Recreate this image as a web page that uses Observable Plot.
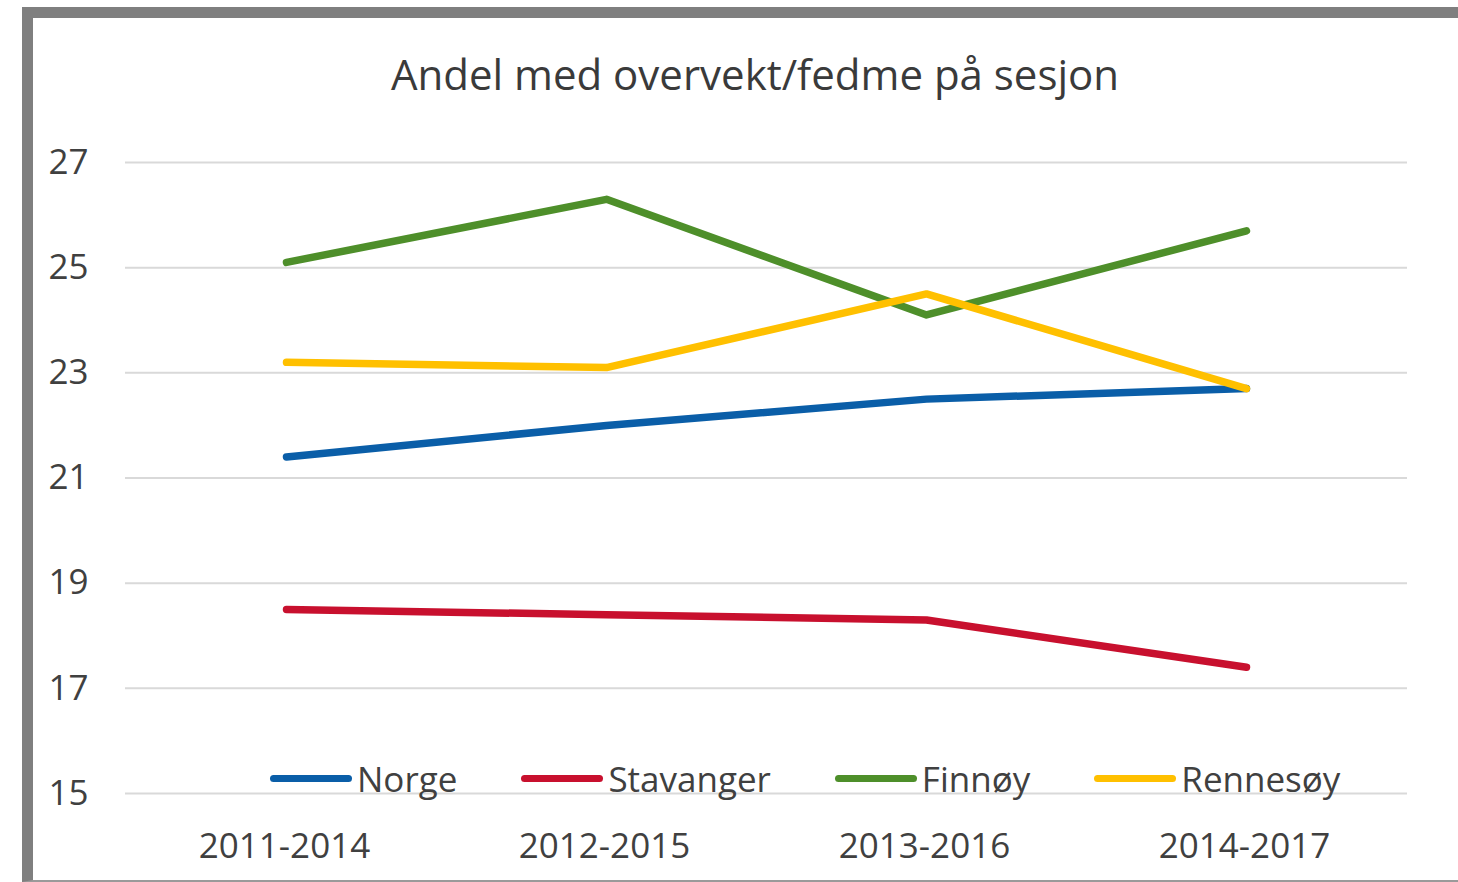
<!DOCTYPE html>
<html>
<head>
<meta charset="utf-8">
<script src="https://cdn.jsdelivr.net/npm/d3@7"></script>
<script src="https://cdn.jsdelivr.net/npm/@observablehq/plot@0.6"></script>
<style>
  html, body { margin: 0; padding: 0; background: #fff; overflow: hidden; }
  #wrap { position: relative; width: 1458px; height: 882px; overflow: hidden; font-family: "Open Sans", sans-serif; color: #404040; }
  #frame { position: absolute; left: 22px; top: 7px; width: 1500px; height: 862px; border-top: 11px solid #7f7f7f; border-left: 11px solid #7f7f7f; border-bottom: 2px solid #9a9a9a; pointer-events: none; }
  #title { position: absolute; top: 53px; left: 755px; transform: translateX(-50%); font-size: 42px; line-height: 1; white-space: nowrap; color: #3a3a3a; }
  #chart { position: absolute; left: 0; top: 120px; }
  #legend { position: absolute; left: 270px; top: 761px; display: flex; gap: 64px; font-size: 35px; line-height: 1; }
  .item { display: flex; align-items: center; gap: 5px; }
  .swatch { width: 82px; height: 7px; border-radius: 4px; }
</style>
</head>
<body>
<div id="wrap">
  <div id="chart"></div>
  <div id="title"></div>
  <div id="legend"></div>
  <div id="frame"></div>
</div>
<script>
const title = "Andel med overvekt/fedme på sesjon";
const periods = ["2011-2014", "2012-2015", "2013-2016", "2014-2017"];
const series = ["Norge", "Stavanger", "Finnøy", "Rennesøy"];
const norge = [21.4, 22.0, 22.5, 22.7];
const stavanger = [18.5, 18.4, 18.3, 17.4];
const finnoy = [25.1, 26.3, 24.1, 25.7];
const rennesoy = [23.2, 23.1, 24.5, 22.7];
const colors = ["#0a5ea8", "#c8102e", "#4e8f2a", "#ffc000"];
const yTicks = [15, 17, 19, 21, 23, 25, 27];

const values = [norge, stavanger, finnoy, rennesoy];
const data = [];
series.forEach((s, i) => periods.forEach((p, j) => data.push({series: s, period: p, value: values[i][j]})));

document.getElementById("title").textContent = title;

const plot = Plot.plot({
  width: 1458,
  height: 762,
  marginTop: 42,
  marginBottom: 89,
  marginLeft: 125,
  marginRight: 51,
  style: {background: "transparent", fontFamily: "Open Sans, sans-serif", fontSize: "35px", color: "#404040"},
  x: {type: "point", domain: periods, padding: 0.5, label: null},
  y: {domain: [15, 27], label: null},
  color: {domain: series, range: colors},
  marks: [
    Plot.gridY(yTicks, {stroke: "#d9d9d9", strokeOpacity: 1, strokeWidth: 2}),
    Plot.axisY(yTicks, {tickSize: 0, tickPadding: 37, tickFormat: d => String(d), fill: "#404040", fontSize: 35, label: null}),
    Plot.axisX({tickSize: 0, tickPadding: 40, fill: "#404040", fontSize: 35, label: null, dx: -2}),
    Plot.line(data, {x: "period", y: "value", z: "series", stroke: "series", strokeWidth: 7.5, strokeLinecap: "round", strokeLinejoin: "round"})
  ]
});
document.getElementById("chart").appendChild(plot);

const legend = document.getElementById("legend");
series.forEach((s, i) => {
  const item = document.createElement("div");
  item.className = "item";
  const sw = document.createElement("div");
  sw.className = "swatch";
  sw.style.background = colors[i];
  const label = document.createElement("span");
  label.textContent = s;
  item.appendChild(sw);
  item.appendChild(label);
  legend.appendChild(item);
});
</script>
</body>
</html>
